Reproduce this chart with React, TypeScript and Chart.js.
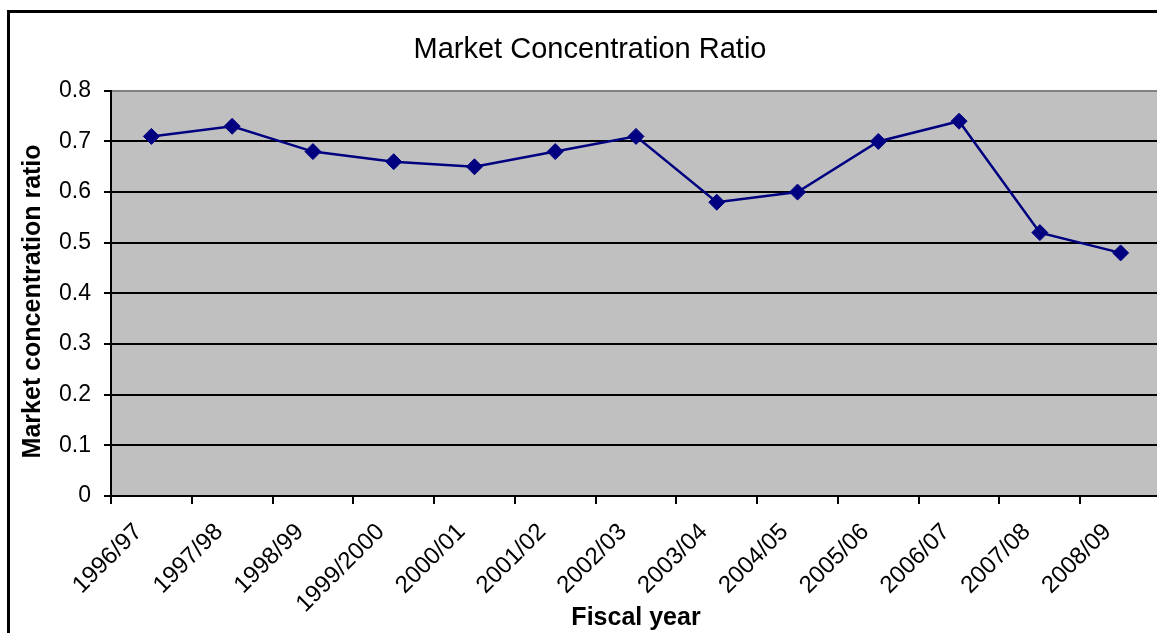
import React, { useEffect, useRef } from "react";
import { Chart, registerables } from "chart.js";

Chart.register(...registerables);

const categories = [
  "1996/97", "1997/98", "1998/99", "1999/2000", "2000/01", "2001/02", "2002/03",
  "2003/04", "2004/05", "2005/06", "2006/07", "2007/08", "2008/09",
];
const ratioValues = [0.71, 0.73, 0.68, 0.66, 0.65, 0.68, 0.71, 0.58, 0.6, 0.7, 0.74, 0.52, 0.48];
const yMin = 0;
const yMax = 0.8;
const yStep = 0.1;
const chartTitle = "Market Concentration Ratio";
const xTitle = "Fiscal year";
const yTitle = "Market concentration ratio";

const FONT = "'Liberation Sans', Arial, sans-serif";

const plotBg = {
  id: "plotBg",
  beforeDraw(chart: any) {
    const { ctx, chartArea } = chart;
    ctx.save();
    ctx.fillStyle = "#C0C0C0";
    ctx.fillRect(chartArea.left, chartArea.top, chartArea.right - chartArea.left, chartArea.bottom - chartArea.top);
    ctx.restore();
  },
};

const yTitlePlugin = {
  id: "yTitlePlugin",
  afterDraw(chart: any) {
    const { ctx, chartArea } = chart;
    ctx.save();
    ctx.translate(23, (chartArea.top + chartArea.bottom) / 2 + 8);
    ctx.rotate(-Math.PI / 2);
    ctx.font = `bold 25px ${FONT}`;
    ctx.fillStyle = "#000";
    ctx.textAlign = "center";
    ctx.textBaseline = "middle";
    ctx.fillText(yTitle, 0, 0);
    ctx.restore();
  },
};

export default function App() {
  const ref = useRef<HTMLCanvasElement>(null);
  useEffect(() => {
    if (!ref.current) return;
    const chart = new Chart(ref.current, {
      type: "line",
      data: {
        labels: categories,
        datasets: [
          {
            data: ratioValues,
            borderColor: "#000080",
            backgroundColor: "#000080",
            borderWidth: 2.5,
            pointStyle: "rectRot",
            pointRadius: 8,
            pointBackgroundColor: "#000080",
            pointBorderColor: "#000080",
            pointBorderWidth: 1,
            tension: 0,
          },
        ],
      },
      options: {
        responsive: false,
        animation: false,
        layout: { padding: { left: 0, right: 0, top: 0, bottom: 0 } },
        plugins: {
          legend: { display: false },
          tooltip: { enabled: false },
          title: {
            display: true,
            text: chartTitle,
            color: "#000",
            font: { family: FONT, size: 29, weight: "normal" },
            padding: { top: 20, bottom: 23 },
          },
        },
        scales: {
          x: {
            type: "category",
            offset: true,
            afterFit: (s: any) => {
              s.height = 177;
            },
            grid: {
              display: true,
              drawOnChartArea: false,
              drawTicks: true,
              tickLength: 8,
              offset: true,
              color: "#000",
              tickColor: "#000",
              lineWidth: 2,
            },
            border: { display: true, color: "#000", width: 2 },
            ticks: {
              color: "#000",
              font: { family: FONT, size: 24 },
              minRotation: 45,
              maxRotation: 45,
              autoSkip: false,
              padding: 14,
              labelOffset: -13,
            },
            title: {
              display: true,
              text: xTitle,
              color: "#000",
              font: { family: FONT, size: 25, weight: "bold" },
              padding: { top: 0, bottom: 40 },
            },
          },
          y: {
            min: yMin,
            max: yMax,
            afterFit: (s: any) => {
              s.width = 101;
            },
            ticks: {
              stepSize: yStep,
              color: "#000",
              font: { family: FONT, size: 23 },
              padding: 13,
              callback: (v: any) => Number(Number(v).toFixed(1)).toString(),
            },
            grid: {
              color: (c: any) => (c.tick && Math.abs(c.tick.value - yMax) < 1e-9 ? "#808080" : "#000"),
              tickColor: "#000",
              lineWidth: 2,
              tickLength: 7,
            },
            border: { display: true, color: "#000", width: 2 },
            title: { display: false },
          },
        },
      },
      plugins: [plotBg, yTitlePlugin],
    });
    return () => chart.destroy();
  }, []);

  return (
    <div style={{ position: "fixed", inset: 0, overflow: "hidden", background: "#fff" }}>
      <div
        style={{
          position: "absolute",
          left: 7,
          top: 10,
          width: 1160,
          height: 660,
          border: "3px solid #000",
        }}
      >
        <canvas ref={ref} width={1160} height={660} style={{ display: "block" }} />
      </div>
    </div>
  );
}
